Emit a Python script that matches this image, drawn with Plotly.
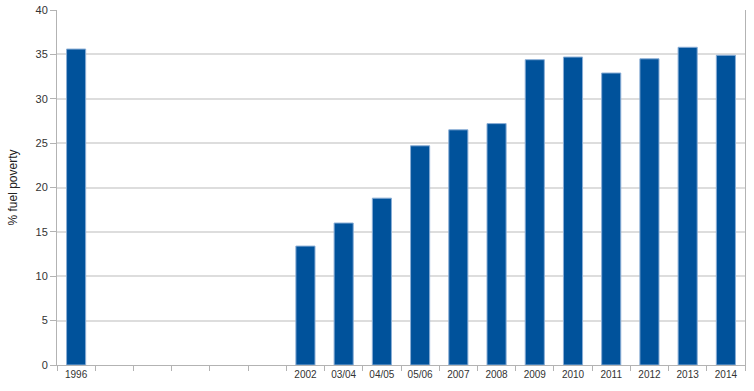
import plotly.graph_objects as go

categories = ["1996", "1997", "1998", "1999", "2000", "2001", "2002", "03/04", "04/05",
              "05/06", "2007", "2008", "2009", "2010", "2011", "2012", "2013", "2014"]
tick_labels = ["1996", "", "", "", "", "", "2002", "03/04", "04/05",
               "05/06", "2007", "2008", "2009", "2010", "2011", "2012", "2013", "2014"]
values = [35.6, None, None, None, None, None, 13.4, 16.0, 18.8,
          24.7, 26.5, 27.2, 34.4, 34.7, 32.9, 34.5, 35.8, 34.9]
y_ticks = [0, 5, 10, 15, 20, 25, 30, 35, 40]

fig = go.Figure(go.Bar(
    x=categories, y=values,
    marker=dict(color="#00529b", line=dict(color="#8aaed6", width=1)),
))

fig.update_layout(
    width=754, height=391,
    margin=dict(l=57, r=9, t=10, b=26),
    paper_bgcolor="white", plot_bgcolor="white",
    bargap=0.5,
    showlegend=False,
    font=dict(family="Liberation Sans, Arial, sans-serif", color="#333333"),
)
fig.update_xaxes(
    type="category", categoryorder="array", categoryarray=categories,
    tickvals=categories, ticktext=tick_labels,
    tickson="boundaries", ticks="outside", ticklen=5, tickcolor="#b3b3b3",
    showline=True, linecolor="#b3b3b3", linewidth=1,
    showgrid=False, tickfont=dict(size=10, color="#333333"),
    automargin=False,
)
fig.update_yaxes(
    range=[0, 40], tickvals=y_ticks,
    ticks="outside", ticklen=6, tickcolor="#b3b3b3",
    showline=True, linecolor="#b3b3b3", linewidth=1, mirror=True,
    showgrid=True, gridcolor="#dddddd", gridwidth=1.5, zeroline=False,
    tickfont=dict(size=11, color="#333333"),
    title=dict(text="% fuel poverty", font=dict(size=12, color="#222222")),
    automargin=False,
)

fig.write_html("out.html", config={"displayModeBar": False},
               post_script="document.body.style.margin='0';")
